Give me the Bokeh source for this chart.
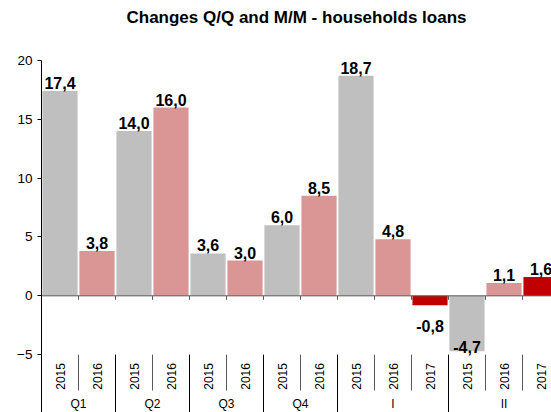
import math
from bokeh.plotting import figure
from bokeh.models import Range1d, FixedTicker, ColumnDataSource, Title
from bokeh.core.properties import value
from bokeh.embed import file_html
from bokeh.resources import INLINE

# ---- data ----
title = "Changes Q/Q and M/M - households loans"
groups = ["Q1", "Q2", "Q3", "Q4", "I", "II"]
group_sizes = [2, 2, 2, 2, 3, 3]
years = ["2015", "2016", "2015", "2016", "2015", "2016", "2015", "2016",
         "2015", "2016", "2017", "2015", "2016", "2017"]
values = [17.4, 3.8, 14.0, 16.0, 3.6, 3.0, 6.0, 8.5, 18.7, 4.8, -0.8, -4.7, 1.1, 1.6]
y_ticks = [-5, 0, 5, 10, 15, 20]

year_colors = {"2015": "#BFBFBF", "2016": "#D99694", "2017": "#C00000"}
FONT = "Liberation Sans"

n = len(values)
xc = [i + 0.5 for i in range(n)]
labels = [("%.1f" % v).replace(".", ",") for v in values]
colors = [year_colors[y] for y in years]

p = figure(width=551, height=412, output_backend="svg", toolbar_location=None,
           x_range=Range1d(0, 510 / 37), y_range=Range1d(-117 / 11.8, 20),
           x_axis_type=None, min_border_left=41, min_border_right=0,
           min_border_top=59, min_border_bottom=0)
p.outline_line_color = None
p.grid.visible = False
p.background_fill_color = "white"

# spacer between title and frame, then the title itself
p.add_layout(Title(text=" ", text_font_size="24px", standoff=0), "above")
p.add_layout(Title(text=title, align="center", text_font=FONT,
                   text_font_size="17px", text_font_style="bold",
                   text_color="black"), "above")

ax = p.yaxis[0]
ax.ticker = FixedTicker(ticks=y_ticks)
ax.minor_tick_line_color = None
ax.major_tick_out = 4
ax.major_tick_in = 0
ax.major_label_standoff = 5
ax.major_label_text_font = FONT
ax.major_label_text_font_size = "13.5px"
ax.major_label_text_color = "black"
ax.axis_line_color = "black"
ax.major_tick_line_color = "black"

# bars
src = ColumnDataSource(dict(x=xc, top=[max(v, 0) for v in values],
                            bottom=[min(v, 0) for v in values], color=colors))
p.vbar(x="x", top="top", bottom="bottom", width=0.95, fill_color="color",
       line_color=None, source=src)

# zero line and ticks at category boundaries
p.segment(x0=[0], y0=[0], x1=[n], y1=[0], line_color="#595959", line_width=1)
p.segment(x0=list(range(1, n + 1)), y0=[0] * n, x1=list(range(1, n + 1)),
          y1=[-0.34] * n, line_color="#595959", line_width=1)

# value labels
pos_x = [x for x, v in zip(xc, values) if v >= 0]
pos_y = [v for v in values if v >= 0]
pos_t = [t for t, v in zip(labels, values) if v >= 0]
p.text(x=pos_x, y=pos_y, text=pos_t, text_align="center", text_baseline="alphabetic",
       y_offset=-8, text_font=value(FONT), text_font_size="16px",
       text_font_style="bold", text_color="black")
neg_small = [(x, v, t) for x, v, t in zip(xc, values, labels) if -4 < v < 0]
neg_big = [(x, v, t) for x, v, t in zip(xc, values, labels) if v <= -4]
if neg_small:
    p.text(x=[a[0] for a in neg_small], y=[a[1] for a in neg_small],
           text=[a[2] for a in neg_small], text_align="center",
           text_baseline="alphabetic", y_offset=21, text_font=value(FONT),
           text_font_size="16px", text_font_style="bold", text_color="black")
if neg_big:
    p.text(x=[a[0] for a in neg_big], y=[a[1] for a in neg_big],
           text=[a[2] for a in neg_big], text_align="center",
           text_baseline="alphabetic", y_offset=-4, text_font=value(FONT),
           text_font_size="16px", text_font_style="bold", text_color="black")

# category labels (years, rotated)
p.text(x=xc, y=[-6.85] * n, text=years, angle=math.pi / 2, text_align="center",
       text_baseline="middle", text_font=value(FONT), text_font_size="12px",
       text_color="black")

# separators
bounds = []
acc = 0
for s in group_sizes:
    acc += s
    bounds.append(acc)
group_bounds = bounds[:-1]
inner = [b for b in range(1, n + 1) if b not in group_bounds]
p.segment(x0=inner, y0=[-5] * len(inner), x1=inner, y1=[-8.05] * len(inner),
          line_color="#595959", line_width=1)
p.segment(x0=group_bounds, y0=[-5] * len(group_bounds), x1=group_bounds,
          y1=[-10] * len(group_bounds), line_color="black", line_width=1)

# group labels
starts = [0] + bounds[:-1]
gx = [(a + b) / 2 for a, b in zip(starts, bounds)]
p.text(x=gx, y=[-9.83] * len(groups), text=groups, text_align="center",
       text_baseline="bottom", text_font=value(FONT), text_font_size="12px",
       text_color="black")

open("out.html", "w").write(file_html(p, INLINE))
